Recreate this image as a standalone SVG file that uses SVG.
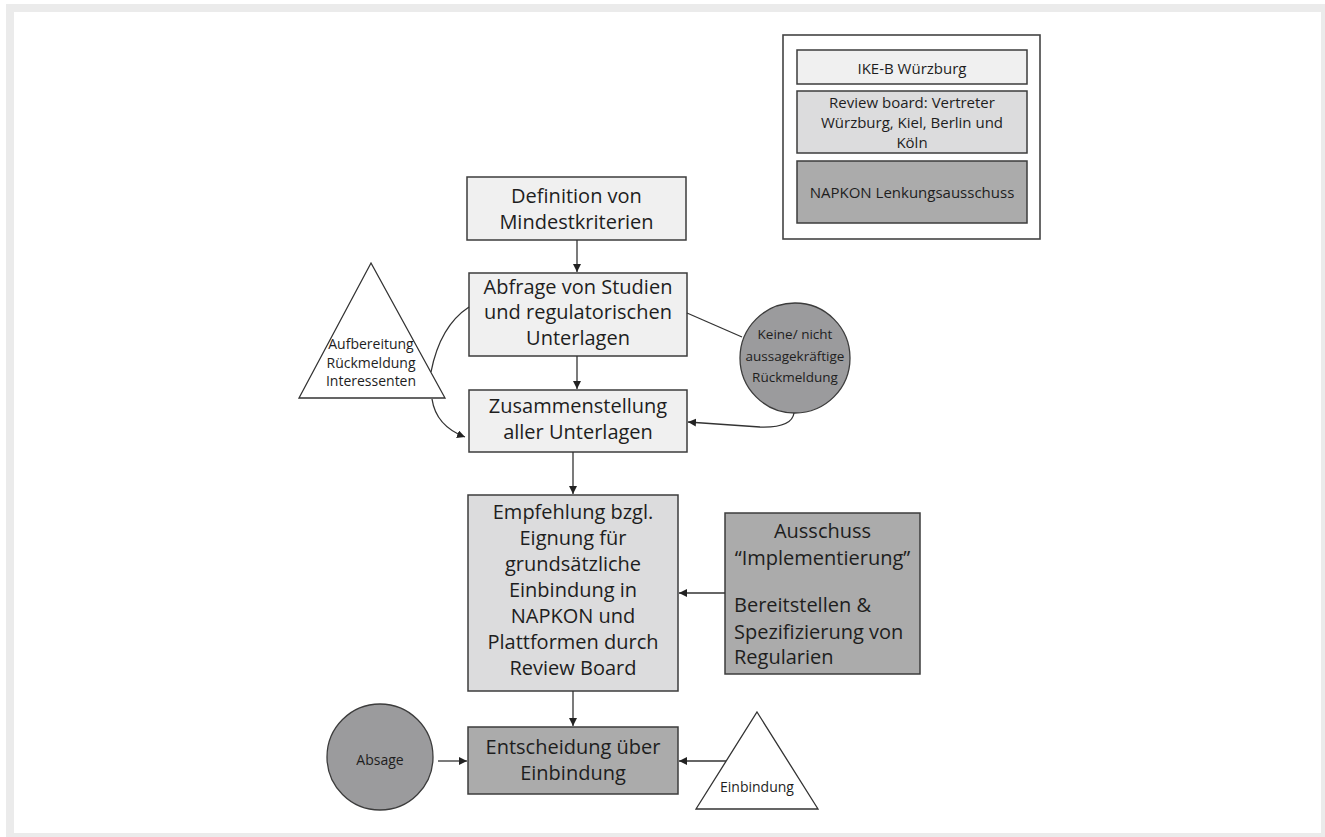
<svg xmlns="http://www.w3.org/2000/svg" width="1325" height="837" viewBox="0 0 1325 837">
<style>
.box{stroke:#3c3c3c;stroke-width:1.5}
.l1{fill:#f0f0f0}
.l2{fill:#dcdcdd}
.l3{fill:#ababab}
.circ{fill:#9b9b9d;stroke:#3c3c3c;stroke-width:1.3}
.tri{fill:#ffffff;stroke:#333;stroke-width:1.3}
text{font-family:"Open Sans","Noto Sans","Liberation Sans",sans-serif;fill:#1e1e1e;text-anchor:middle}
.t20{font-size:20px}
.t15{font-size:15px}
.t14{font-size:14px}
.t13{font-size:13.5px}
.left{text-anchor:start}
.conn{fill:none;stroke:#333;stroke-width:1.3}
</style>
<defs>
<marker id="ah" markerWidth="10" markerHeight="10" refX="8" refY="4" orient="auto" markerUnits="userSpaceOnUse">
<path d="M0,0 L8,4 L0,8 Z" fill="#222"/>
</marker>
</defs>
<rect x="0" y="0" width="1325" height="837" fill="#ffffff"/>
<rect x="6" y="4" width="1319" height="833" fill="#ebebeb"/>
<rect x="14" y="12" width="1307" height="821" fill="#ffffff"/>

<g id="legend">
<rect x="783" y="35" width="257" height="204" fill="#ffffff" stroke="#444" stroke-width="1.6"/>
<rect class="box l1" x="797" y="50" width="230" height="34"/>
<text class="t15" x="912" y="74">IKE-B Würzburg</text>
<rect class="box l2" x="797" y="91" width="230" height="62"/>
<text class="t15" x="912" y="108">Review board: Vertreter</text>
<text class="t15" x="912" y="128">Würzburg, Kiel, Berlin und</text>
<text class="t15" x="912" y="148">Köln</text>
<rect class="box l3" x="797" y="161" width="230" height="62"/>
<text class="t15" x="912" y="198">NAPKON Lenkungsausschuss</text>
</g>

<g id="definition">
<rect class="box l1" x="467" y="177" width="219" height="63"/>
<text class="t20" x="576.5" y="203">Definition von</text>
<text class="t20" x="576.5" y="229">Mindestkriterien</text>
</g>

<g id="abfrage">
<rect class="box l1" x="469" y="273" width="218" height="83"/>
<text class="t20" x="578" y="294">Abfrage von Studien</text>
<text class="t20" x="578" y="319">und regulatorischen</text>
<text class="t20" x="578" y="345">Unterlagen</text>
</g>

<g id="zusammenstellung">
<rect class="box l1" x="469" y="390" width="218" height="62"/>
<text class="t20" x="578" y="413">Zusammenstellung</text>
<text class="t20" x="578" y="439">aller Unterlagen</text>
</g>

<g id="empfehlung">
<rect class="box l2" x="468" y="495" width="210" height="196"/>
<text class="t20" x="573" y="519">Empfehlung bzgl.</text>
<text class="t20" x="573" y="545">Eignung für</text>
<text class="t20" x="573" y="571">grundsätzliche</text>
<text class="t20" x="573" y="597">Einbindung in</text>
<text class="t20" x="573" y="623">NAPKON und</text>
<text class="t20" x="573" y="649">Plattformen durch</text>
<text class="t20" x="573" y="675">Review Board</text>
</g>

<g id="ausschuss">
<rect class="box l3" x="725" y="513" width="195" height="161"/>
<text class="t20" x="822.5" y="538">Ausschuss</text>
<text class="t20" x="822.5" y="565">“Implementierung”</text>
<text class="t20 left" x="734" y="612">Bereitstellen &amp;</text>
<text class="t20 left" x="734" y="639">Spezifizierung von</text>
<text class="t20 left" x="734" y="664">Regularien</text>
</g>

<g id="entscheidung">
<rect class="box l3" x="468" y="727" width="210" height="67"/>
<text class="t20" x="573" y="754">Entscheidung über</text>
<text class="t20" x="573" y="780">Einbindung</text>
</g>

<g id="aufbereitung">
<polygon class="tri" points="371,263 445,398 299,398"/>
<text class="t14" x="371" y="349">Aufbereitung</text>
<text class="t14" x="371" y="368">Rückmeldung</text>
<text class="t14" x="371" y="386">Interessenten</text>
</g>

<g id="keine">
<circle class="circ" cx="795" cy="358" r="55"/>
<text class="t13" x="795" y="339">Keine/ nicht</text>
<text class="t13" x="795" y="361">aussagekräftige</text>
<text class="t13" x="795" y="382">Rückmeldung</text>
</g>

<g id="absage">
<circle class="circ" cx="380" cy="757" r="53"/>
<text class="t14" x="380" y="765">Absage</text>
</g>

<g id="einbindung">
<polygon class="tri" points="757,712 818,809 696,809"/>
<text class="t14" x="757" y="792">Einbindung</text>
</g>

<g id="connectors">
<line class="conn" x1="577" y1="240" x2="577" y2="272" marker-end="url(#ah)"/>
<line class="conn" x1="577" y1="356" x2="577" y2="389" marker-end="url(#ah)"/>
<line class="conn" x1="573" y1="452" x2="573" y2="494" marker-end="url(#ah)"/>
<line class="conn" x1="573" y1="691" x2="573" y2="726" marker-end="url(#ah)"/>
<line class="conn" x1="725" y1="593" x2="679" y2="593" marker-end="url(#ah)"/>
<line class="conn" x1="726" y1="761" x2="679" y2="761" marker-end="url(#ah)"/>
<line class="conn" x1="438" y1="761" x2="467" y2="761" marker-end="url(#ah)"/>
<line class="conn" x1="687" y1="313" x2="742" y2="337"/>
<path class="conn" d="M794,413 Q792,428 760,427 L688,422" marker-end="url(#ah)"/>
<path class="conn" d="M469,307 Q440,326 431,372"/>
<path class="conn" d="M432,399 Q436,426 465,437" marker-end="url(#ah)"/>
</g>
</svg>
